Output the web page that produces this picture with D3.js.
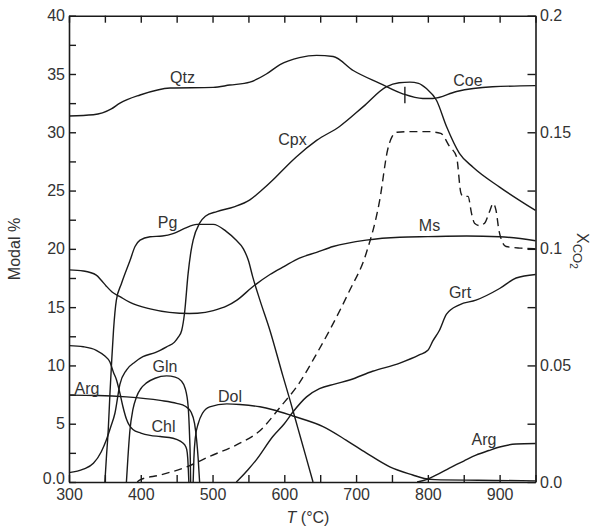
<!DOCTYPE html>
<html>
<head>
<meta charset="utf-8">
<script src="https://cdn.jsdelivr.net/npm/d3@7"></script>
<style>
  body { margin: 0; background: #fff; }
  svg { display: block; }
</style>
</head>
<body>
<svg id="chart" width="600" height="529"></svg>
<script>
// ---- data (T in °C, modal %) ----
const xTicks = [300,350,400,450,500,550,600,650,700,750,800,850,900,950];
const xLabels = [300,400,500,600,700,800,900];
const yTicks = [0,2.5,5,7.5,10,12.5,15,17.5,20,22.5,25,27.5,30,32.5,35,37.5,40];
const yLabels = [0,5,10,15,20,25,30,35,40];
const y2Ticks = [0,0.025,0.05,0.075,0.1,0.125,0.15,0.175,0.2];
const y2Labels = {0:"0.0",0.05:"0.05",0.1:"0.1",0.15:"0.15",0.2:"0.2"};

const qtzCoe = [[300,31.4],[334,31.5],[359,32.0],[371,32.5],[399,33.2],[441,33.8],[501,33.85],[524,34.05],[552,34.3],[575,35.0],[594,35.8],[621,36.4],[645,36.6],[668,36.5],[696,35.3],[733,34.2],[765,33.3],[793,32.9],[807,32.9],[840,33.5],[890,33.9],[950,34.0]];
const cpx = [[300,0.8],[320,1.1],[334,1.6],[345,2.6],[352,3.6],[358,4.7],[364,5.9],[371,8.4],[380,9.6],[392,10.3],[403,10.75],[420,11.1],[436,11.6],[447,12.0],[452,12.4],[457,13.0],[461,14.5],[466,17.9],[470,19.8],[473,20.75],[482,22.2],[490,22.8],[506,23.2],[530,23.6],[552,24.2],[568,25.0],[584,25.9],[600,26.9],[617,27.9],[645,29.3],[677,30.5],[710,32.2],[742,33.9],[760,34.25],[775,34.3],[787,34.2],[798,33.75],[812,32.75],[826,30.5],[844,28.2],[863,27.0],[900,25.3],[950,23.3]];
const pg = [[350,0],[352,2.0],[354.7,4.5],[357,7.5],[359.4,10.3],[362,13.0],[366,15.6],[373,17.0],[385,19.0],[392,20.2],[399,20.75],[413,21.04],[430,21.1],[445,21.3],[461,21.75],[478,22.1],[501,22.1],[519,21.5],[532,20.8],[543,20.0],[550,19.0],[556,17.6],[566,15.6],[580,13.0],[598,9.1],[608,7.0],[619,4.6],[630,2.2],[640,0]];
const ms = [[300,18.2],[320,18.1],[338,17.75],[345,17.3],[352,16.8],[360,16.3],[371,15.9],[385,15.4],[413,14.85],[440,14.55],[468,14.45],[490,14.55],[501,14.7],[520,15.1],[534,15.6],[556,16.75],[580,17.8],[600,18.5],[621,19.2],[645,19.7],[668,20.2],[714,20.75],[761,21.0],[800,21.05],[854,21.1],[900,21.04],[950,20.7]];
const chl = [[300,11.7],[320,11.6],[338,11.3],[350,10.8],[357,10.3],[362,9.4],[366,8.8],[371,7.6],[375,6.5],[380,5.4],[389,4.5],[400,4.2],[413,4.0],[427,3.9],[445,3.75],[455,3.5],[461,3.2],[464,2.8],[465.5,2.0],[466.3,1.0],[467,0]];
const gln = [[380,0],[382,2],[385,4.5],[389,6.2],[394,7.3],[400,8.0],[408,8.5],[420,8.9],[436,9.1],[448,9.0],[456,8.7],[462,8.0],[466,6.5],[468,4.0],[469,2.0],[469.5,0]];
const argLow = [[300,7.45],[340,7.42],[380,7.3],[427,7.0],[450,6.75],[462,6.5],[470,6.0],[475,5.0],[478,3.5],[480,2.0],[482,0]];
const dol = [[473,0],[474,2.0],[476,3.8],[480,5.0],[486,5.9],[496,6.45],[520,6.7],[538,6.65],[566,6.45],[584,6.2],[612,5.66],[654,4.75],[686,3.6],[714,2.5],[747,1.3],[779,0.6],[795,0.3],[810,0.2],[870,0.15],[950,0.1]];
const argHigh = [[785,0],[798,0.2],[815,0.7],[830,1.2],[850,1.8],[867,2.3],[885,2.7],[900,3.0],[923,3.26],[950,3.3]];
const grt = [[533,0],[538,0.3],[550,1.1],[561,1.9],[584,3.9],[600,5.0],[612,6.0],[631,7.3],[649,8.0],[670,8.4],[691,8.75],[723,9.5],[761,10.2],[788,10.9],[800,11.3],[807,12.1],[816,13.0],[826,14.4],[844,15.2],[867,15.6],[900,16.6],[923,17.5],[950,17.8]];
// X_CO2 (right axis)
const xco2 = [[395,0],[399,0.0009],[427,0.003],[464,0.0065],[496,0.011],[534,0.016],[566,0.022],[594,0.032],[621,0.0425],[645,0.055],[663,0.065],[690,0.0815],[714,0.098],[733,0.121],[744,0.1425],[750,0.148],[757,0.15],[775,0.1503],[800,0.1503],[818,0.1495],[830,0.144],[840,0.1395],[846,0.124],[849,0.1225],[856,0.1225],[861,0.115],[865,0.111],[872,0.110],[879,0.111],[886,0.116],[891,0.1195],[895,0.1165],[899,0.108],[903,0.1035],[909,0.101],[930,0.1003],[950,0.1]];
// Qtz -> Coe transition marker
const transitionT = 768;
const transitionRange = [32.5, 33.9];

const curveLabels = [
  ["Qtz",182.5,83],["Coe",468,86],["Cpx",292.5,145],["Pg",167.5,228],["Ms",429.5,231],
  ["Grt",460,298],["Gln",165,371.5],["Arg",87,393.5],["Chl",163.5,431.5],["Dol",230,401.5],["Arg",484,445]
];

// ---- drawing ----
const svg = d3.select("#chart");
svg.append("rect").attr("width",600).attr("height",529).attr("fill","#fff");
const FONT = "'Liberation Sans', Arial, Helvetica, sans-serif";
const x = d3.scaleLinear().domain([300,950]).range([69,535.5]);
const y = d3.scaleLinear().domain([0,40]).range([482,15.7]);
const y2 = d3.scaleLinear().domain([0,0.2]).range([482,15.7]);

const line = d3.line().x(d=>x(d[0])).y(d=>y(d[1])).curve(d3.curveMonotoneX);
const line2 = d3.line().x(d=>x(d[0])).y(d=>y2(d[1])).curve(d3.curveMonotoneX);

const solid = [qtzCoe,cpx,pg,ms,chl,gln,argLow,dol,argHigh,grt];
svg.append("g").selectAll("path").data(solid).join("path")
  .attr("d", line).attr("fill","none").attr("stroke","#1a1a1a").attr("stroke-width",1.4);
svg.append("path").datum(xco2).attr("d", line2).attr("fill","none")
  .attr("stroke","#1a1a1a").attr("stroke-width",1.4).attr("stroke-dasharray","8,5");
svg.append("line")
  .attr("x1",x(transitionT)).attr("x2",x(transitionT))
  .attr("y1",y(transitionRange[0])).attr("y2",y(transitionRange[1]))
  .attr("stroke","#1a1a1a").attr("stroke-width",1.4);

function styleAxis(g){
  g.attr("font-family",FONT).attr("font-size",16);
  g.selectAll("path.domain").attr("stroke","#1a1a1a").attr("stroke-width",1.6);
  g.selectAll(".tick line").attr("stroke","#1a1a1a").attr("stroke-width",1.4);
  g.selectAll(".tick text").attr("fill","#333");
}
svg.append("g").attr("transform","translate(0,482)")
  .call(d3.axisBottom(x).tickValues(xTicks).tickSize(-7).tickSizeOuter(0).tickPadding(7)
    .tickFormat(d=>xLabels.includes(d)?d:""))
  .call(styleAxis);
svg.append("g").attr("transform","translate(0,15.7)")
  .call(d3.axisTop(x).tickValues(xTicks).tickSize(-7).tickSizeOuter(0).tickFormat(""))
  .call(styleAxis);
const leftAxis = svg.append("g").attr("transform","translate(69,0)")
  .call(d3.axisLeft(y).tickValues(yTicks).tickSize(-7).tickSizeOuter(0).tickPadding(4)
    .tickFormat(d=>yLabels.includes(d)?(d===0?"0.0":d):""))
  .call(styleAxis);
leftAxis.selectAll(".tick text").filter(d=>d===0).attr("dy","0.1em");
svg.append("g").attr("transform","translate(535.5,0)")
  .call(d3.axisRight(y2).tickValues(y2Ticks).tickSize(-8).tickSizeOuter(0).tickPadding(4.5)
    .tickFormat(d=>{const k=Object.keys(y2Labels).find(k=>Math.abs(+k-d)<1e-9);return k!==undefined?y2Labels[k]:"";}))
  .call(styleAxis);

// curve labels
svg.append("g").selectAll("text").data(curveLabels).join("text")
  .attr("x",d=>d[1]).attr("y",d=>d[2]).attr("text-anchor","middle")
  .attr("font-family",FONT).attr("font-size",16).attr("fill","#333").text(d=>d[0]);

// axis titles
svg.append("text").attr("transform","translate(20,249) rotate(-90)")
  .attr("text-anchor","middle").attr("font-family",FONT).attr("font-size",16).attr("fill","#333")
  .text("Modal %");
const xt = svg.append("text").attr("x",308).attr("y",523).attr("text-anchor","middle")
  .attr("font-family",FONT).attr("font-size",16).attr("fill","#333");
xt.append("tspan").attr("font-style","italic").text("T");
xt.append("tspan").text(" (°C)");
const yt = svg.append("text").attr("transform","translate(577,233) rotate(90)")
  .attr("text-anchor","start").attr("font-family",FONT).attr("font-size",16).attr("fill","#333");
yt.append("tspan").text("X");
yt.append("tspan").attr("font-size",13).attr("dy",4).text("CO");
yt.append("tspan").attr("font-size",10).attr("dy",3).text("2");
</script>
</body>
</html>
